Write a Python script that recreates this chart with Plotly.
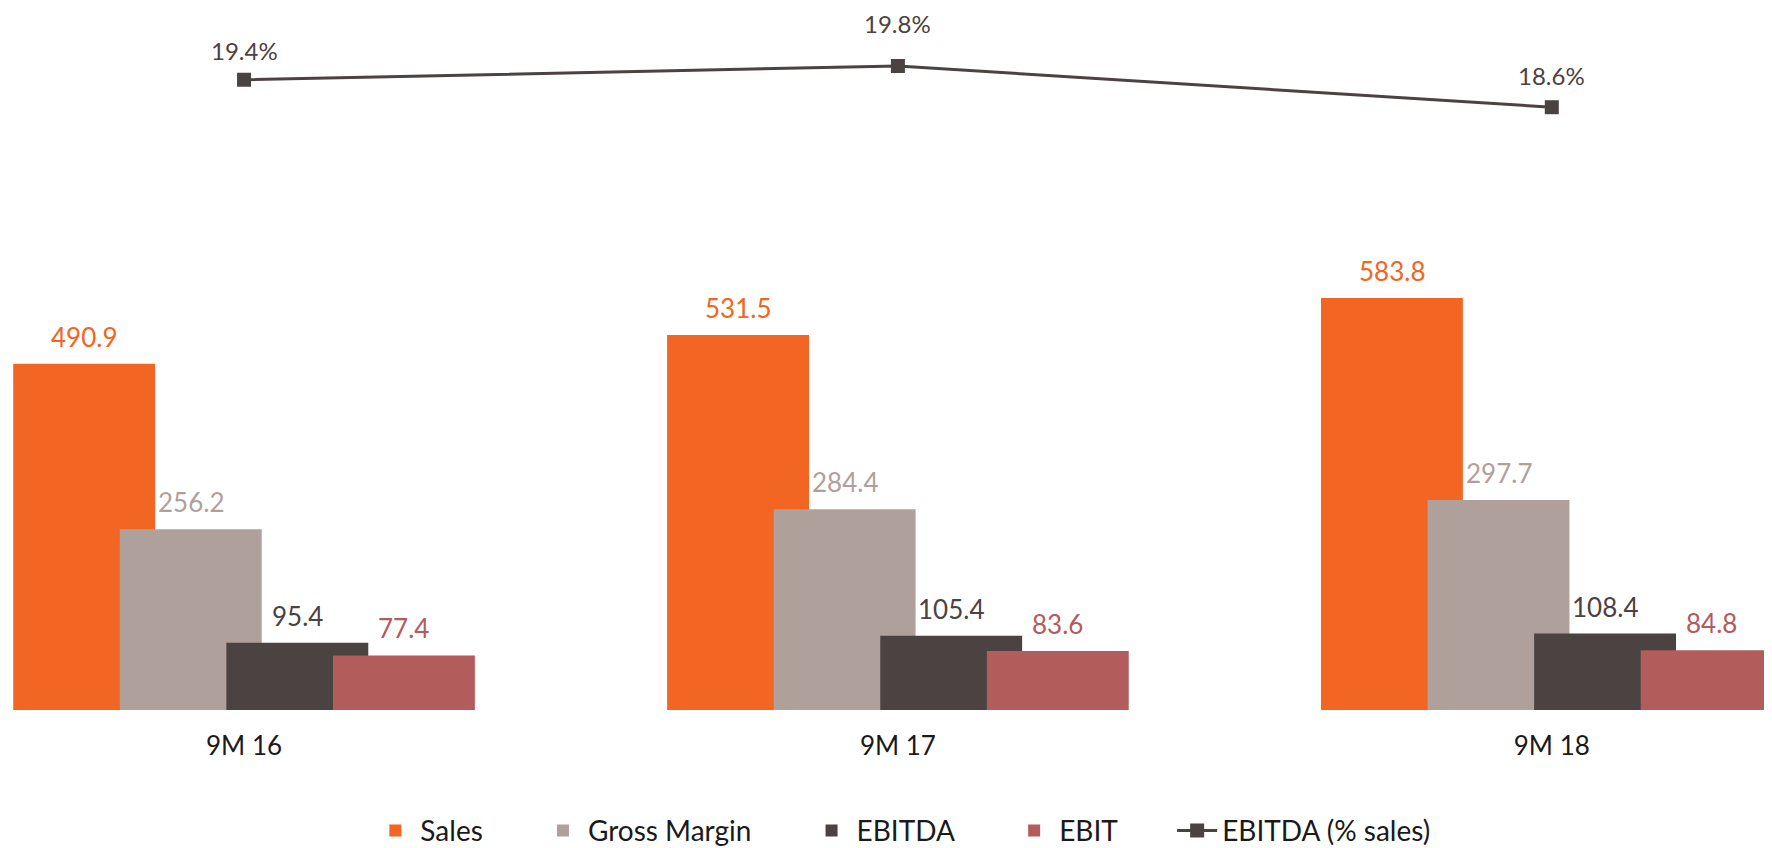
import plotly.graph_objects as go

# data
periods = ["9M 16", "9M 17", "9M 18"]
sales = [490.9, 531.5, 583.8]
gross_margin = [256.2, 284.4, 297.7]
ebitda = [95.4, 105.4, 108.4]
ebit = [77.4, 83.6, 84.8]
ebitda_pct = [19.4, 19.8, 18.6]

FONT = "Lato"
DARK = "#4B4242"
PAD = "\u00a0" * 7  # extra room between legend entries
bar_series = [
    ("Sales", sales, "#F26522"),
    ("Gross Margin", gross_margin, "#B0A09C"),
    ("EBITDA", ebitda, DARK),
    ("EBIT", ebit, "#B25C5B"),
]

fig = go.Figure()

# overlapping bars: each one shifted by a fixed step within its group
bar_width = 0.217
step = 0.163
start = -0.353
for i, (name, vals, color) in enumerate(bar_series):
    off = start + i * step
    fig.add_trace(go.Bar(
        x=periods, y=vals, name=name + PAD,
        marker=dict(color=color, line=dict(width=0)),
        width=bar_width, offset=off,
    ))
    # value labels sitting a bit above each bar
    for j, v in enumerate(vals):
        fig.add_annotation(x=j + off + bar_width / 2, y=v, xref="x", yref="y",
                           text=f"{v:.1f}", showarrow=False, yanchor="middle", yshift=27,
                           font=dict(family=FONT, size=26, color=color))

fig.add_trace(go.Scatter(
    x=periods, y=ebitda_pct, name="EBITDA (% sales)", yaxis="y2",
    mode="lines+markers",
    line=dict(color=DARK, width=3),
    marker=dict(symbol="square", size=14, color=DARK),
    cliponaxis=False,
))
pct_shift = [29, 43, 32]
for j, v in enumerate(ebitda_pct):
    fig.add_annotation(x=j, y=v, xref="x", yref="y2", text=f"{v:.1f}%",
                       showarrow=False, yanchor="middle", yshift=pct_shift[j],
                       font=dict(family=FONT, size=24, color=DARK))

fig.update_layout(
    width=1772, height=848,
    barmode="overlay",
    plot_bgcolor="white", paper_bgcolor="white",
    margin=dict(l=0, r=0, t=0, b=136),
    font=dict(family=FONT, size=26, color="#1a1a1a"),
    xaxis=dict(range=[-0.361, 2.349], showgrid=False, showline=False,
               ticks="", ticklabelstandoff=18,
               tickfont=dict(family=FONT, size=26, color="#1a1a1a")),
    yaxis=dict(range=[0, 995], visible=False),
    yaxis2=dict(range=[1.04, 21.49], overlaying="y", visible=False),
    legend=dict(orientation="h", x=0.505, xanchor="center", y=-0.172, yanchor="middle",
                font=dict(family=FONT, size=28, color="#1a1a1a"),
                itemwidth=40, traceorder="normal"),
    showlegend=True,
)

fig.write_html("out.html")
